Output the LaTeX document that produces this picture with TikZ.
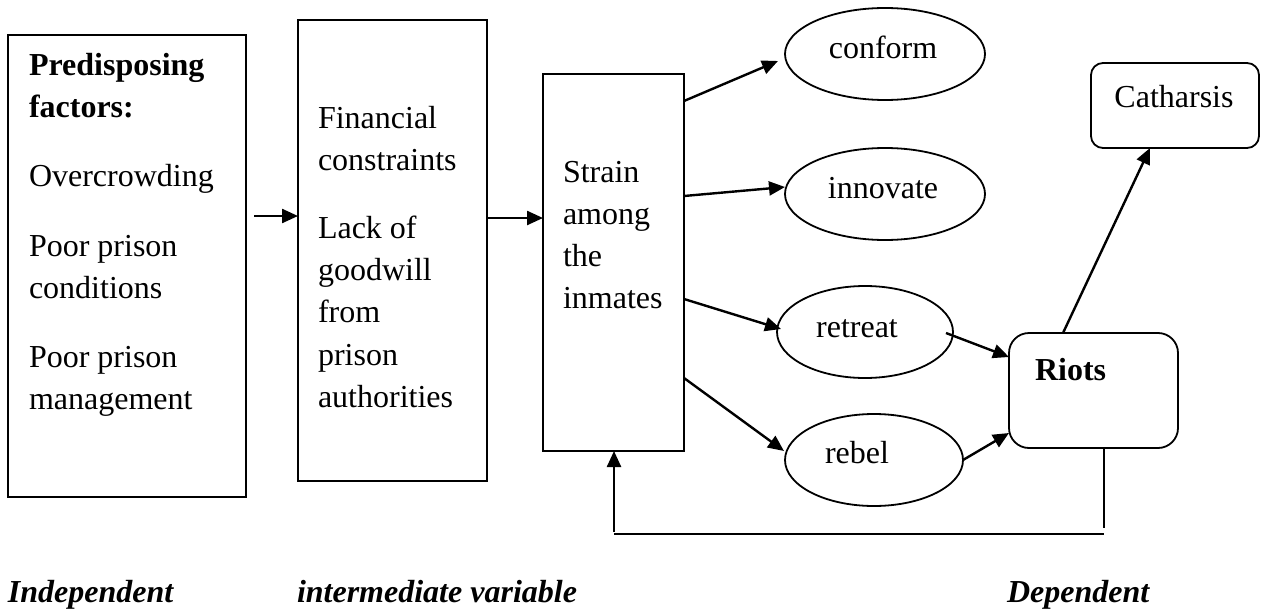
\documentclass[tikz,border=0pt]{standalone}
\usepackage{fontspec}
\setmainfont{Liberation Serif}
\usetikzlibrary{arrows.meta,shapes.geometric}
\newcommand{\myln}[1]{\hbox{#1}}
\newcommand{\mygap}{\vskip 27pt}
\begin{document}
\begin{tikzpicture}[x=1pt,y=-1pt,
  every node/.style={font=\fontsize{32}{42}\selectfont, inner sep=0pt, outer sep=0pt},
  boxst/.style={draw, line width=1.8pt, anchor=north west},
  ellst/.style={draw, ellipse, line width=1.8pt, minimum height=92pt},
  arr/.style={line width=2.4pt, -{Triangle[length=16pt,width=14pt]}},
  plainln/.style={line width=2pt},
  txt/.style={anchor=base west},
  lab/.style={anchor=base west, font=\fontsize{32}{42}\selectfont\bfseries\itshape}]
\useasboundingbox (0,0) rectangle (1266,610);
% boxes
\node[boxst, minimum width=238pt, minimum height=462pt] (box1) at (8,35) {};
\node[boxst, minimum width=189pt, minimum height=461pt] (box2) at (298,20) {};
\node[boxst, minimum width=141pt, minimum height=377pt] (box3) at (543,74) {};
\node[boxst, rounded corners=20pt, minimum width=169pt, minimum height=115pt] (riots) at (1009,333) {};
\node[boxst, rounded corners=12pt, minimum width=168pt, minimum height=85pt] (cath) at (1091,63) {};
% ellipses
\node[ellst, minimum width=200pt] (conform) at (885,54) {};
\node[ellst, minimum width=200pt] (innovate) at (885,194) {};
\node[ellst, minimum width=176pt] (retreat) at (865,332) {};
\node[ellst, minimum width=178pt] (rebel) at (874,460) {};
% texts
\node[txt] (t1) at (29,76) {\vtop{\myln{\bfseries Predisposing}\myln{\bfseries factors:}\mygap\myln{Overcrowding}\mygap\myln{Poor prison}\myln{conditions}\mygap\myln{Poor prison}\myln{management}}};
\node[txt] (t2) at (318,128) {\vtop{\myln{Financial}\myln{constraints}\mygap\myln{Lack of}\myln{goodwill}\myln{from}\myln{prison}\myln{authorities}}};
\node[txt] (t3) at (563,182) {\vtop{\myln{Strain}\myln{among}\myln{the}\myln{inmates}}};
\node[anchor=base] (tconform) at (883,59) {conform};
\node[anchor=base] (tinnovate) at (883,198) {innovate};
\node[anchor=base] (tretreat) at (857,337) {retreat};
\node[anchor=base] (trebel) at (857,463) {rebel};
\node[txt] (triots) at (1035,380) {\bfseries Riots};
\node[anchor=base] (tcath) at (1174,107) {Catharsis};
\node[lab] (l1) at (8,602) {Independent};
\node[lab] (l2) at (297,602) {intermediate variable};
\node[lab] (l3) at (1007,602) {Dependent};
% coordinates
\coordinate (a1s) at (254,216);
\coordinate (y218) at (0,218);
\coordinate (tC) at (778,61);
\coordinate (tI) at (785,187);
\coordinate (tR) at (781,329);
\coordinate (tB) at (784,451);
\coordinate (rS) at (946,333);
\coordinate (fbL) at (614,534);
\coordinate (fbR) at (1104,534);
% connectors
\draw[arr] (a1s) -- (box2.west |- a1s);
\draw[arr] (box2.east |- y218) -- (box3.west |- y218);
\draw[arr] (box3.east |- 0,101) -- (tC);
\draw[arr] (box3.east |- 0,196) -- (tI);
\draw[arr] (box3.east |- 0,299) -- (tR);
\draw[arr] (box3.east |- 0,378) -- (tB);
\draw[arr] (rS) -- (riots.west |- 0,357);
\draw[arr] (rebel.east) -- (riots.west |- 0,433);
\draw[arr] (riots.north -| 1063,0) -- (cath.south -| 1150,0);
\draw[plainln] (riots.south -| fbR) -- ([yshift=6pt]fbR);
\draw[plainln] (fbL) -- (fbR);
\draw[arr] ([yshift=2pt]fbL) -- (box3.south -| fbL);
\end{tikzpicture}
\end{document}
